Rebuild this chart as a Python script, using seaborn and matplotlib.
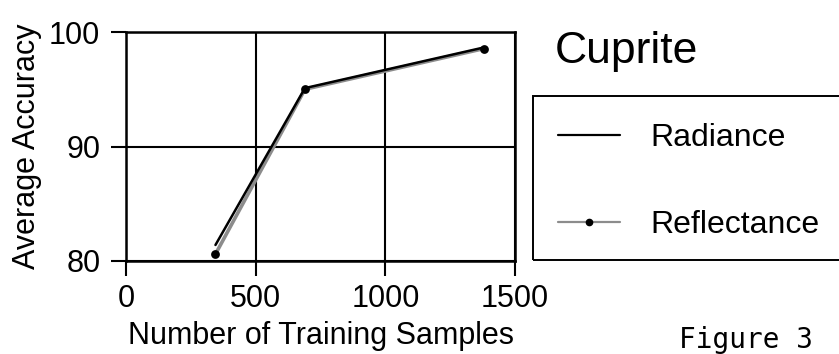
import matplotlib
matplotlib.use("Agg")
import matplotlib.pyplot as plt
from matplotlib.patches import Rectangle
import pandas as pd
import seaborn as sns

# data
samples = [345, 690, 1380]
radiance = [81.4, 95.1, 98.65]
reflectance = [80.6, 95.0, 98.55]

x_ticks = [0, 500, 1000, 1500]
y_ticks = [80, 90, 100]

df = pd.DataFrame({
    "samples": samples * 2,
    "accuracy": radiance + reflectance,
    "type": ["Radiance"] * 3 + ["Reflectance"] * 3,
})

sns.set_style("white")
plt.rcParams["font.family"] = ["Liberation Sans", "DejaVu Sans"]
plt.rcParams["text.color"] = "black"
plt.rcParams["axes.labelcolor"] = "black"

fig = plt.figure(figsize=(8.39, 3.54), dpi=100)
ax = fig.add_axes([126 / 839, 1 - 261 / 354, (515 - 126) / 839, (261 - 32) / 354])

# reflectance first (gray with dots), radiance on top in black
refl = df[df["type"] == "Reflectance"]
rad = df[df["type"] == "Radiance"]
sns.lineplot(data=refl, x="samples", y="accuracy", ax=ax, color="#8c8c8c",
             linewidth=2.6, legend=False, zorder=3)
sns.lineplot(data=rad, x="samples", y="accuracy", ax=ax, color="black",
             linewidth=1.8, legend=False, zorder=4)
# dots on top of both lines
sns.scatterplot(data=refl, x="samples", y="accuracy", ax=ax, color="black",
                s=40, edgecolor="black", linewidth=0, legend=False, zorder=5)

ax.set_xlim(0, 1500)
ax.set_ylim(80, 100)
ax.set_xticks(x_ticks)
ax.set_yticks(y_ticks)
ax.grid(True, color="black", linewidth=1.5)
ax.set_axisbelow(True)
for s in ax.spines.values():
    s.set_color("black")
    s.set_linewidth(1.8)
ax.tick_params(direction="out", length=10.5, width=1.5, colors="black",
               labelcolor="black", labelsize=22, bottom=True, left=True)
ax.tick_params(axis="x", pad=6)
ax.tick_params(axis="y", pad=8)
ax.set_xlabel("Number of Training Samples", fontsize=22, labelpad=5)
ax.set_ylabel("Average Accuracy", fontsize=22, labelpad=5)

# legend without frame, with its own box running off the right edge
h_rad = plt.Line2D([], [], color="black", linewidth=1.6)
h_ref = plt.Line2D([], [], color="#8c8c8c", linewidth=1.6, marker="o",
                   markersize=4.5, markerfacecolor="black",
                   markeredgecolor="black")
fig.legend([h_rad, h_ref], ["Radiance", "Reflectance"], frameon=False,
           loc="upper left", bbox_to_anchor=(558 / 839, 1 - 123 / 354),
           fontsize=23, handlelength=1.94, handletextpad=0.94,
           labelspacing=1.78, borderpad=0, borderaxespad=0)
fig.patches.append(Rectangle((533 / 839, 1 - 260 / 354), 0.5, (260 - 96) / 354,
                             transform=fig.transFigure, fill=False,
                             edgecolor="black", linewidth=1.4))

fig.text(555 / 839, 1 - 63 / 354, "Cuprite", fontsize=32, va="baseline",
         ha="left")
fig.text(679 / 839, 1 - 348 / 354, "Figure 3", fontsize=20, va="baseline",
         ha="left", family="DejaVu Sans Mono")

fig.savefig("out.png", dpi=100)
